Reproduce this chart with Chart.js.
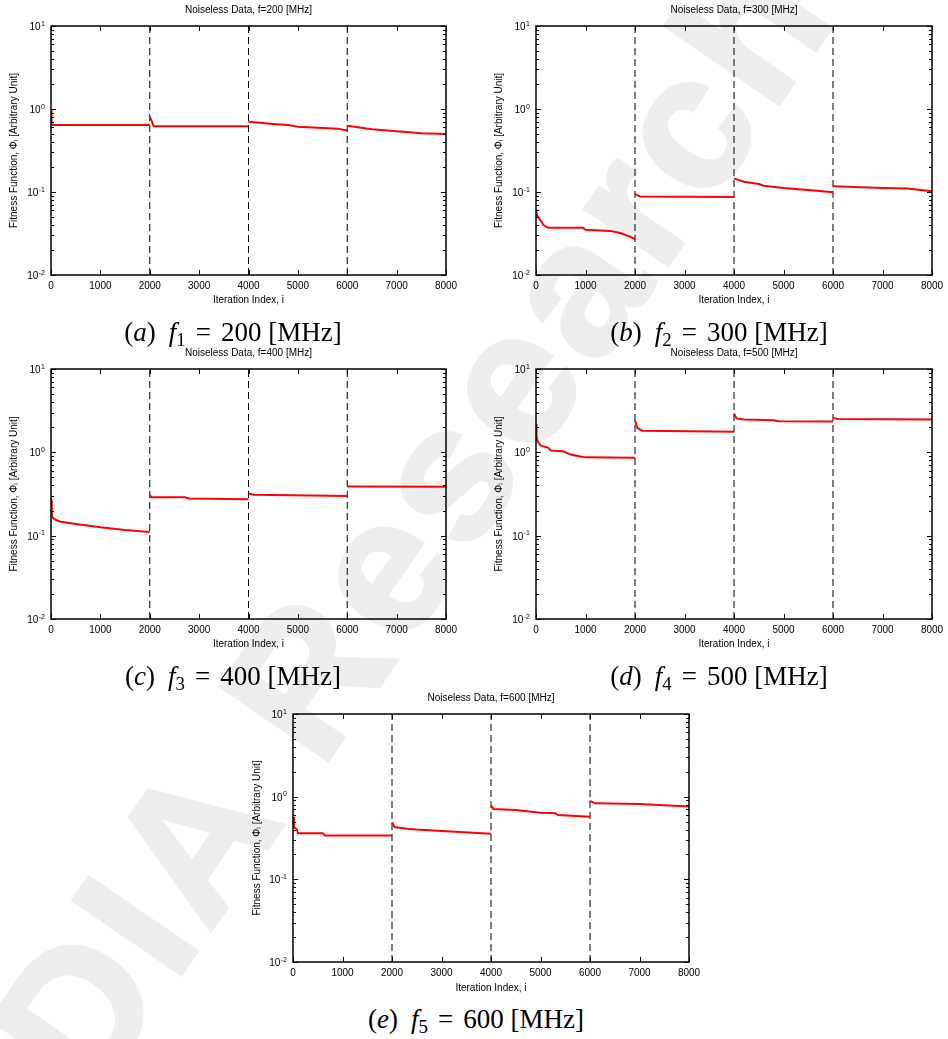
<!DOCTYPE html>
<html><head><meta charset="utf-8">
<script src="https://cdn.jsdelivr.net/npm/chart.js@4.4.1/dist/chart.umd.min.js"></script>
<style>
html,body{margin:0;padding:0;background:#fff;}
body{width:948px;height:1039px;position:relative;overflow:hidden;}
#wm{position:absolute;left:-41px;top:1013px;transform-origin:0 0;transform:rotate(-55.5deg);
  font:bold 190px 'Liberation Sans','DejaVu Sans',sans-serif;line-height:1;letter-spacing:8px;color:#eeeeee;
  -webkit-text-stroke:4px #eeeeee;white-space:nowrap;z-index:0;}
canvas{position:absolute;z-index:1;}
.cap{position:absolute;transform:translate(-50%,-50%);font-family:'Liberation Serif','DejaVu Serif',serif;
  font-size:27px;white-space:nowrap;color:#000;z-index:2;line-height:1;}
.cap sub{font-size:0.7em;vertical-align:-0.3em;line-height:0;}
.cap .eq{margin:0 10px;}
.cap .f{margin-left:13px;}
</style></head>
<body>
<div id="wm">DIA Research</div>
<canvas id="cA" width="474" height="312" style="left:0px;top:0px"></canvas>
<canvas id="cB" width="474" height="312" style="left:474px;top:0px"></canvas>
<canvas id="cC" width="474" height="316" style="left:0px;top:340px"></canvas>
<canvas id="cD" width="474" height="316" style="left:474px;top:340px"></canvas>
<canvas id="cE" width="474" height="314" style="left:240px;top:685px"></canvas>
<div class="cap" style="left:233px;top:332px">(<i>a</i>)<span class="f"><i>f</i><sub>1</sub></span><span class="eq">=</span>200 [MHz]</div>
<div class="cap" style="left:719px;top:332px">(<i>b</i>)<span class="f"><i>f</i><sub>2</sub></span><span class="eq">=</span>300 [MHz]</div>
<div class="cap" style="left:233px;top:676px">(<i>c</i>)<span class="f"><i>f</i><sub>3</sub></span><span class="eq">=</span>400 [MHz]</div>
<div class="cap" style="left:719px;top:676px">(<i>d</i>)<span class="f"><i>f</i><sub>4</sub></span><span class="eq">=</span>500 [MHz]</div>
<div class="cap" style="left:476px;top:1019px">(<i>e</i>)<span class="f"><i>f</i><sub>5</sub></span><span class="eq">=</span>600 [MHz]</div>
<script>
// ---------- data ----------
const iterTicks = [0, 1000, 2000, 3000, 4000, 5000, 6000, 7000, 8000];
const yTickValues = [0.01, 0.1, 1, 10];
const yTickExponents = ['-2', '-1', '0', '1'];
const restartIters = [2000, 4000, 6000];
const panelTitles = ['Noiseless Data, f=200 [MHz]', 'Noiseless Data, f=300 [MHz]', 'Noiseless Data, f=400 [MHz]',
                     'Noiseless Data, f=500 [MHz]', 'Noiseless Data, f=600 [MHz]'];

const xA = [0, 10, 30, 2000, 2000, 2000, 2030, 2080, 4000, 4000, 4000, 4500, 4800, 5000, 5500, 5800, 5950, 6000, 6000, 6000, 6500, 7000, 7500, 8000];
const yA = [1.0, 0.66, 0.64, 0.64, null, 0.80, 0.74, 0.62, 0.62, null, 0.70, 0.66, 0.64, 0.61, 0.59, 0.58, 0.56, 0.55, null, 0.63, 0.57, 0.54, 0.51, 0.50];

const xB = [0, 10, 40, 100, 150, 250, 950, 1000, 1500, 1700, 1900, 2000, 2000, 2000, 2100, 4000, 4000, 4000, 4200, 4500, 4600, 5000, 5500, 6000, 6000, 6000, 7000, 7500, 8000];
const yB = [0.062, 0.055, 0.050, 0.045, 0.040, 0.037, 0.037, 0.035, 0.034, 0.032, 0.029, 0.027, null, 0.095, 0.088, 0.087, null, 0.146, 0.133, 0.125, 0.119, 0.112, 0.106, 0.099, null, 0.117, 0.112, 0.110, 0.102];

const xC = [0, 15, 30, 100, 200, 500, 1000, 1500, 2000, 2000, 2000, 2030, 2700, 2800, 4000, 4000, 4000, 4100, 6000, 6000, 6000, 8000];
const yC = [0.27, 0.18, 0.165, 0.154, 0.147, 0.138, 0.126, 0.117, 0.111, null, 0.31, 0.29, 0.29, 0.28, 0.274, null, 0.32, 0.31, 0.30, null, 0.39, 0.386];

const xD = [0, 10, 30, 100, 250, 300, 550, 700, 900, 1000, 2000, 2000, 2000, 2050, 2150, 4000, 4000, 4000, 4050, 4200, 4800, 4900, 6000, 6000, 6000, 6100, 8000];
const yD = [2.2, 1.56, 1.36, 1.2, 1.13, 1.05, 1.03, 0.94, 0.89, 0.87, 0.86, null, 2.4, 1.96, 1.82, 1.77, null, 2.92, 2.55, 2.47, 2.43, 2.36, 2.34, null, 2.59, 2.52, 2.47];

const xE = [0, 20, 80, 100, 600, 650, 2000, 2000, 2000, 2050, 2300, 2500, 3000, 4000, 4000, 4000, 4050, 4500, 5000, 5300, 5350, 6000, 6000, 6000, 6100, 7000, 8000];
const yE = [0.57, 0.43, 0.40, 0.36, 0.36, 0.338, 0.338, null, 0.49, 0.43, 0.41, 0.40, 0.385, 0.357, null, 0.78, 0.71, 0.69, 0.64, 0.63, 0.60, 0.57, null, 0.89, 0.83, 0.815, 0.76];

// ---------- drawing ----------
const FONT = "'Liberation Sans', 'DejaVu Sans', Arial, sans-serif";

const framePlugin = {
  id: 'frame',
  afterDatasetsDraw(chart, args, opts) {
    const {ctx, chartArea: {left, right, top, bottom}, scales: {x, y}} = chart;
    ctx.save();
    ctx.strokeStyle = '#000';
    ctx.lineWidth = 1;
    ctx.beginPath();
    iterTicks.forEach(v => {
      const px = Math.round(x.getPixelForValue(v)) + 0.5;
      ctx.moveTo(px, bottom); ctx.lineTo(px, bottom - 5);
      ctx.moveTo(px, top); ctx.lineTo(px, top + 5);
    });
    for (let k = -2; k <= 1; k++) {
      for (let m = 1; m <= 9; m++) {
        const v = m * Math.pow(10, k);
        if (v > 10.0001) break;
        const py = Math.round(y.getPixelForValue(v)) + 0.5;
        const len = m === 1 ? 5 : 3;
        ctx.moveTo(left, py); ctx.lineTo(left + len, py);
        ctx.moveTo(right, py); ctx.lineTo(right - len, py);
      }
    }
    ctx.stroke();
    ctx.lineWidth = 1.5;
    ctx.strokeRect(left, top, right - left, bottom - top);
    ctx.fillStyle = '#000';
    // panel title
    ctx.font = '10px ' + FONT;
    ctx.textAlign = 'center';
    ctx.textBaseline = 'middle';
    ctx.fillText(opts.title, (left + right) / 2, top - 15.5);
    // y tick labels 10^k
    ctx.textBaseline = 'alphabetic';
    ctx.textAlign = 'right';
    yTickValues.forEach((v, i) => {
      const py = y.getPixelForValue(v);
      const xr = left - 6;
      ctx.font = '7px ' + FONT;
      const ew = ctx.measureText(yTickExponents[i]).width;
      ctx.fillText(yTickExponents[i], xr, py - 0.5);
      ctx.font = '10px ' + FONT;
      ctx.fillText('10', xr - ew - 0.5, py + 4);
    });
    ctx.restore();
  }
};

function makeChart(id, title, xs, ys, g) {
  const redData = xs.map((v, i) => ({x: v, y: ys[i]}));
  const datasets = [{
    data: redData, borderColor: '#ff0000', borderWidth: 2, pointRadius: 0,
    spanGaps: false, tension: 0, fill: false
  }];
  restartIters.forEach(r => datasets.push({
    data: [{x: r, y: yTickValues[0]}, {x: r, y: yTickValues[yTickValues.length - 1]}],
    borderColor: '#000', borderWidth: 1, borderDash: [7, 4], pointRadius: 0, fill: false
  }));
  new Chart(document.getElementById(id), {
    type: 'line',
    data: {datasets},
    options: {
      responsive: false, animation: false, devicePixelRatio: 1,
      layout: {padding: {left: 0, right: g.pr, top: g.pt, bottom: 0}},
      plugins: {legend: {display: false}, tooltip: {enabled: false}, title: {display: false}, frame: {title}},
      scales: {
        x: {
          type: 'linear', min: 0, max: 8000,
          grid: {display: false, drawTicks: false}, border: {display: false},
          afterBuildTicks(s) { s.ticks = iterTicks.map(v => ({value: v})); },
          ticks: {color: '#000', font: {family: FONT, size: 10}, padding: 5, maxRotation: 0, autoSkip: false,
                  callback: (v) => String(v)},
          title: {display: true, text: 'Iteration Index, i', color: '#000', font: {family: FONT, size: 10},
                  padding: {top: 0, bottom: g.xtb}},
          afterFit(s) { s.height = g.xh; s.paddingLeft = 0; s.paddingRight = 0; }
        },
        y: {
          type: 'logarithmic', min: 0.01, max: 10,
          grid: {display: false, drawTicks: false}, border: {display: false},
          afterBuildTicks(s) { s.ticks = yTickValues.map(v => ({value: v})); },
          ticks: {display: false},
          title: {display: true, text: 'Fitness Function, \u03A6\u1D62 [Arbitrary Unit]', color: '#000',
                  font: {family: FONT, size: 10}, padding: {top: g.ytp, bottom: 0}},
          afterFit(s) { s.width = g.yw; s.paddingTop = 0; s.paddingBottom = 0; }
        }
      }
    },
    plugins: [framePlugin]
  });
}

makeChart('cA', panelTitles[0], xA, yA, {pr: 28, pt: 26, yw: 51, xh: 37, xtb: 6, ytp: 8});
makeChart('cB', panelTitles[1], xB, yB, {pr: 16, pt: 26, yw: 62, xh: 37, xtb: 6, ytp: 19});
makeChart('cC', panelTitles[2], xC, yC, {pr: 28, pt: 29, yw: 51, xh: 37, xtb: 6, ytp: 8});
makeChart('cD', panelTitles[3], xD, yD, {pr: 16, pt: 29, yw: 62, xh: 37, xtb: 6, ytp: 19});
makeChart('cE', panelTitles[4], xE, yE, {pr: 25, pt: 29, yw: 53, xh: 37, xtb: 5, ytp: 11});
</script>
</body></html>
